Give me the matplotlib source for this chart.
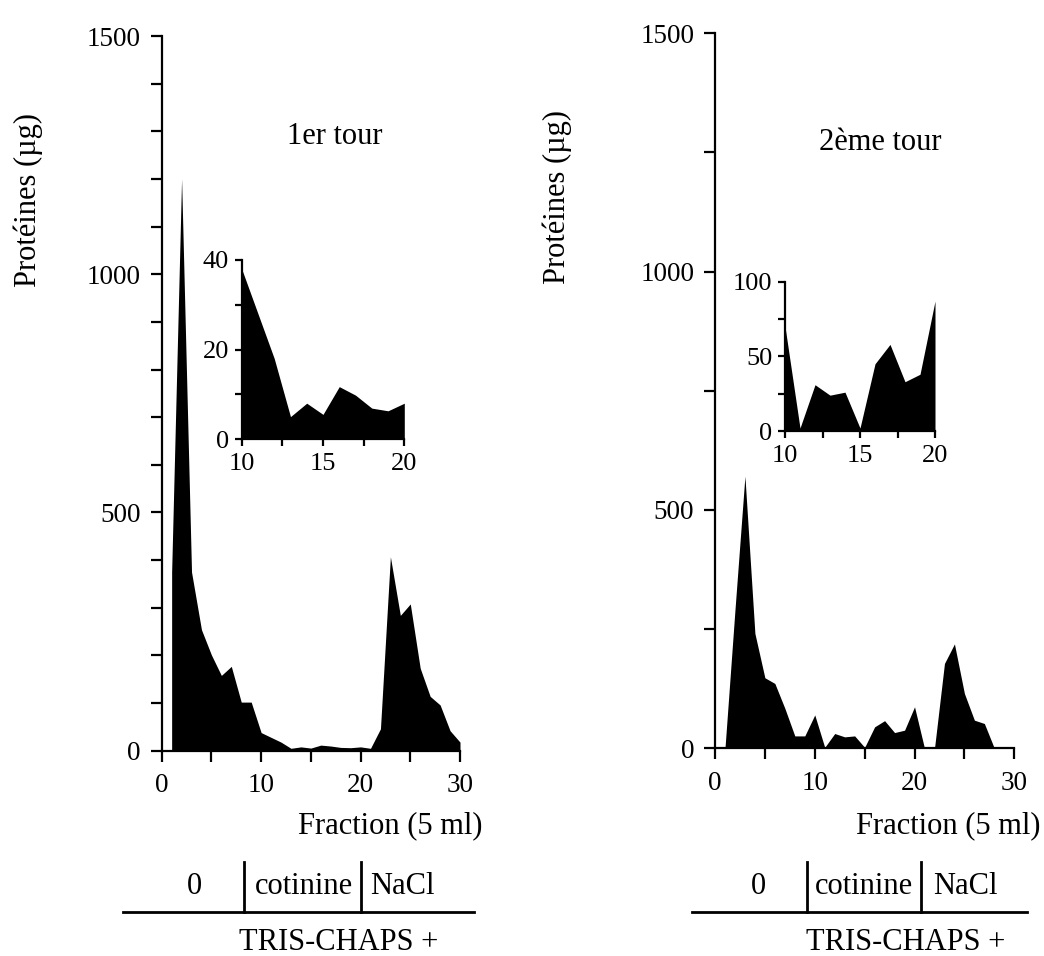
import numpy as np
import matplotlib
matplotlib.use("Agg")
import matplotlib.pyplot as plt
from matplotlib.lines import Line2D
from matplotlib.ticker import MultipleLocator

plt.rcParams['font.family'] = ['Liberation Serif', 'DejaVu Serif']

# fractions and protein amounts (ug)
fractions_1 = list(range(1, 31))
proteins_1 = [375, 1200, 375, 254, 201, 158, 177, 102, 102, 38,
              28, 18, 5, 8, 5.5, 11.7, 9.8, 6.9, 6.3, 8,
              5, 46, 407, 284, 308, 173, 114, 96, 42, 18]

fractions_2 = list(range(1, 29))
proteins_2 = [0, 290, 571, 241, 148, 136, 84, 26, 26, 70,
              2, 31, 24, 26, 2, 45, 58, 33, 38, 87,
              0, 0, 178, 219, 115, 59, 52, 0]

titles = ["1er tour", "2ème tour"]
buffers = ["0", "cotinine", "NaCl"]

W, H = 1044, 956
fig = plt.figure(figsize=(W / 100, H / 100), dpi=100)


def box(x0, x1, y_bot, y_top):
    # pixel box -> figure fraction rect
    return [x0 / W, 1 - y_bot / H, (x1 - x0) / W, (y_bot - y_top) / H]


def style(ax, length, size, xpad, ypad):
    for s in ["top", "right"]:
        ax.spines[s].set_visible(False)
    for s in ["left", "bottom"]:
        ax.spines[s].set_linewidth(1.6)
    ax.tick_params(which="both", direction="out", length=length, width=1.6,
                   labelsize=size)
    ax.tick_params(axis="x", which="both", pad=xpad)
    ax.tick_params(axis="y", which="both", pad=ypad)


def fig_text(x, y, s, **kw):
    fig.text(x / W, 1 - y / H, s, ha=kw.pop("ha", "center"), va=kw.pop("va", "center"),
             fontsize=kw.pop("fontsize", 22), **kw)


def fig_line(xs, ys):
    fig.add_artist(Line2D([x / W for x in xs], [1 - y / H for y in ys],
                          color="black", lw=2, transform=fig.transFigure))


panels = [
    dict(x=fractions_1, y=proteins_1, main=box(161.7, 460, 750.7, 36), ymin=100,
         inset=box(241.7, 404.3, 439, 260), ilim=40, imaj=20, imin=10,
         ylab=(28, 200), title=(335, 137), flab=483,
         vlines=(244, 360.7), hline=(122.7, 474), cells=(194, 304, 402), tris=339),
    dict(x=fractions_2, y=proteins_2, main=box(715, 1014.3, 748.3, 33.3), ymin=250,
         inset=box(785, 935, 431, 281.7), ilim=100, imaj=50, imin=25,
         ylab=(557, 197), title=(880, 142), flab=1040,
         vlines=(806.7, 920.7), hline=(691.7, 1026.7), cells=(758, 864, 965), tris=906),
]

for p, title in zip(panels, titles):
    x = np.array(p["x"])
    y = np.array(p["y"])

    ax = fig.add_axes(p["main"])
    ax.fill_between(x, y, color="black", lw=0)
    ax.set_xlim(0, 30)
    ax.set_ylim(0, 1500)
    ax.xaxis.set_major_locator(MultipleLocator(10))
    ax.xaxis.set_minor_locator(MultipleLocator(5))
    ax.yaxis.set_major_locator(MultipleLocator(500))
    ax.yaxis.set_minor_locator(MultipleLocator(p["ymin"]))
    style(ax, 8, 19.5, 8, 7)

    ins = fig.add_axes(p["inset"])
    m = (x >= 10) & (x <= 20)
    ins.fill_between(x[m], y[m], color="black", lw=0)
    ins.set_xlim(10, 20)
    ins.set_ylim(0, p["ilim"])
    ins.xaxis.set_major_locator(MultipleLocator(5))
    ins.xaxis.set_minor_locator(MultipleLocator(2.5))
    ins.yaxis.set_major_locator(MultipleLocator(p["imaj"]))
    ins.yaxis.set_minor_locator(MultipleLocator(p["imin"]))
    style(ins, 5, 19, 5, 4)
    ins.patch.set_alpha(0)

    fig_text(p["ylab"][0], p["ylab"][1], "Protéines (µg)", rotation=90)
    fig_text(p["title"][0], p["title"][1], title)
    fig_text(p["flab"], 826, "Fraction (5 ml)", ha="right")

    # buffer table below the axis
    fig_line(p["hline"], [911.7, 911.7])
    for vx in p["vlines"]:
        fig_line([vx, vx], [862, 911.7])
    for cx, lab in zip(p["cells"], buffers):
        fig_text(cx, 886, lab)
    fig_text(p["tris"], 943, "TRIS-CHAPS +")

fig.savefig("out.png", dpi=100)
